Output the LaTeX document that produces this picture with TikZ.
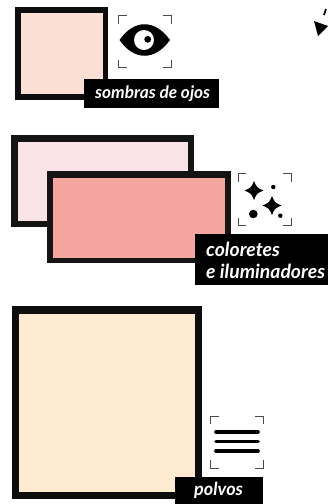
\documentclass[tikz,border=0pt]{standalone}
\usepackage{fontspec}
\setmainfont{Lato}
\tikzset{
  tag/.style={fill=black,inner sep=0pt,anchor=north west},
  tagtxt/.style={inner sep=0pt,anchor=west,text=white,font=\fontsize{#1}{20}\selectfont\bfseries\itshape},
  brk/.style={draw=black!70,line width=1pt,line cap=butt},
}
\newcommand{\corners}[4]{%
  \draw[brk] (#1+8,#2) -- (#1,#2) -- (#1,#2+8);
  \draw[brk] (#3-8,#2) -- (#3,#2) -- (#3,#2+8);
  \draw[brk] (#1+8,#4) -- (#1,#4) -- (#1,#4-8);
  \draw[brk] (#3-8,#4) -- (#3,#4) -- (#3,#4-8);
}
\newcommand{\spark}[3]{%
  \fill (#1,#2-#3) .. controls (#1+0.3*#3,#2-0.3*#3) .. (#1+#3,#2) .. controls (#1+0.3*#3,#2+0.3*#3) .. (#1,#2+#3) .. controls (#1-0.3*#3,#2+0.3*#3) .. (#1-#3,#2) .. controls (#1-0.3*#3,#2-0.3*#3) .. (#1,#2-#3) -- cycle;
}
\begin{document}
\begin{tikzpicture}[x=1pt,y=-1pt]
\useasboundingbox (0,0) rectangle (328,504);
% eye shadow
\fill[black!95] (15,7) rectangle (108,100);
\fill[fill={rgb,255:red,251;green,222;blue,212}] (21,13) rectangle (103,94);
\node[tag,minimum width=135pt,minimum height=29pt] (a) at (84,79) {};
\node[tagtxt=17.2] (at) at (95,94) {sombras de ojos};
\corners{118.5}{15.5}{171}{67.5}
\fill (119.5,40) .. controls (134,19) and (155,19) .. (170,40) .. controls (155,61) and (134,61) .. (119.5,40) -- cycle;
\fill[white] (144,40) circle (10);
\fill (147.7,39.3) circle (3.4);
% arrow fragment
\fill (314,21) -- (328,26) -- (318,36) -- cycle;
\draw[line width=1.6pt] (326,9) -- (324,15);
% blush
\fill[black!92] (11,135) rectangle (194,227);
\fill[fill={rgb,255:red,250;green,227;blue,231}] (18,142) rectangle (188,221);
\fill[black!92] (47,171) rectangle (231,263);
\fill[fill={rgb,255:red,243;green,165;blue,158}] (53,178) rectangle (225,258);
\node[tag,minimum width=133pt,minimum height=51pt] (b) at (195,234) {};
\node[tagtxt=19.4] (bt1) at (206,249) {coloretes};
\node[tagtxt=19.4] (bt2) at (206,271) {e iluminadores};
\corners{238}{173.5}{291}{225.5}
\spark{254}{190.5}{9.5}
\spark{272}{205.5}{9.5}
\fill (273.3,187) circle (2.2);
\fill (253.3,214) circle (4.3);
\fill (280.3,215.7) circle (2.2);
% powder
\fill[black!95] (12,306) rectangle (202,499);
\fill[fill={rgb,255:red,254;green,234;blue,208}] (19,314) rectangle (195,492);
\node[tag,minimum width=88pt,minimum height=27pt] (c) at (175,477) {};
\node[tagtxt=18] (ct) at (194,490.5) {polvos};
\corners{210.5}{416}{263}{468}
\draw[line width=3.6pt,line cap=round] (216,432) -- (258,432);
\draw[line width=3.6pt,line cap=round] (216,441.5) -- (258,441.5);
\draw[line width=3.6pt,line cap=round] (216,451) -- (258,451);
\end{tikzpicture}
\end{document}
